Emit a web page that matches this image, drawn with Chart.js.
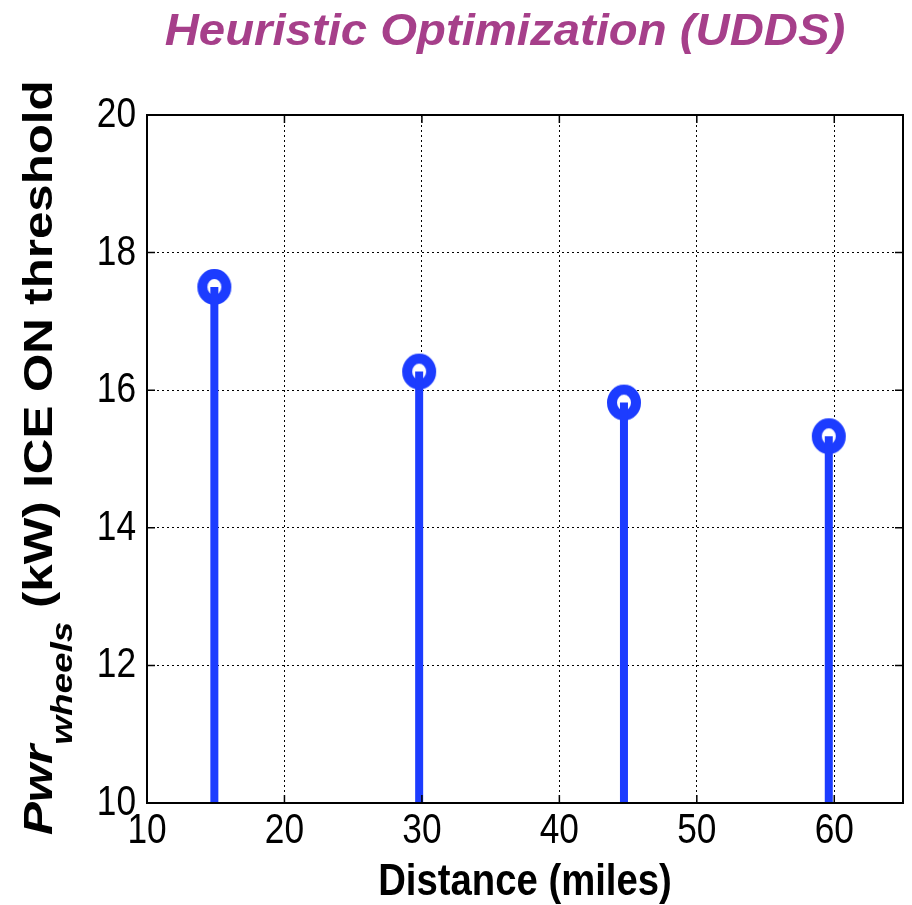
<!DOCTYPE html>
<html>
<head>
<meta charset="utf-8">
<script src="https://cdn.jsdelivr.net/npm/chart.js@4.4.1/dist/chart.umd.min.js"></script>
<style>
  html, body { margin: 0; padding: 0; background: #fff; overflow: hidden; }
  #wrap { width: 912px; height: 905px; position: relative; }
  #chart { display: block; }
</style>
</head>
<body>
<div id="wrap"><canvas id="chart" width="912" height="905"></canvas></div>
<script>
/* ─── Data ─────────────────────────────────────────────────────────────── */

const distances = [14.9, 29.8, 44.7, 59.6];          // miles (2, 4, 6, 8 UDDS cycles)
const thresholds = [17.5, 16.27, 15.82, 15.33];      // kW
const xTicks = [10, 20, 30, 40, 50, 60];
const yTicks = [10, 12, 14, 16, 18, 20];

const TITLE = 'Heuristic Optimization (UDDS)';
const X_LABEL = 'Distance (miles)';

const BLUE = '#1c3cff';
const PURPLE = '#a63f8a';
const SANS = '"Liberation Sans", Arial, Helvetica, sans-serif';

// ─── Marker: blue ring, a bit taller than wide ─────────────────────────────
function makeMarker() {
  const c = document.createElement('canvas');
  c.width = 36; c.height = 38;
  const g = c.getContext('2d');
  g.beginPath();
  g.ellipse(18, 19, 12, 13, 0, 0, Math.PI * 2);
  g.fillStyle = '#fff';
  g.fill();
  g.lineWidth = 10;
  g.strokeStyle = BLUE;
  g.stroke();
  return c;
}

// one two-point line per stem, from the baseline up to the value
const stemSets = distances.map((d, i) => ({
  type: 'line',
  data: [{ x: d, y: yTicks[0] }, { x: d, y: thresholds[i] }],
  borderColor: BLUE,
  borderWidth: 8,
  borderCapStyle: 'butt',
  pointRadius: 0,
  order: 0,
}));

const markerSet = {
  type: 'scatter',
  data: distances.map((d, i) => ({ x: d, y: thresholds[i] })),
  pointStyle: makeMarker(),
  pointRadius: 18,
  order: 1,
};

// text squeezed/stretched along its own direction (the source figure was resized)
function stretchText(ctx, text, x, y, sx, align) {
  ctx.save();
  ctx.translate(x, y);
  ctx.scale(sx, 1);
  ctx.textAlign = align;
  ctx.fillText(text, 0, 0);
  ctx.restore();
}

// ─── Decorations: box, inward ticks, tick labels, title, axis labels ───────
const frame = {
  id: 'frame',
  afterDraw(chart) {
    const { ctx, chartArea: a, scales } = chart;
    ctx.save();
    ctx.strokeStyle = '#000';
    ctx.lineWidth = 1.5;
    ctx.beginPath();
    xTicks.forEach(v => {
      const px = scales.x.getPixelForValue(v);
      ctx.moveTo(px, a.bottom); ctx.lineTo(px, a.bottom - 8);
      ctx.moveTo(px, a.top); ctx.lineTo(px, a.top + 8);
    });
    yTicks.forEach(v => {
      const py = scales.y.getPixelForValue(v);
      ctx.moveTo(a.left, py); ctx.lineTo(a.left + 8, py);
      ctx.moveTo(a.right, py); ctx.lineTo(a.right - 8, py);
    });
    ctx.stroke();
    ctx.lineWidth = 2;
    ctx.strokeRect(a.left, a.top, a.right - a.left, a.bottom - a.top);

    // tick labels (narrow, like the source)
    ctx.fillStyle = '#000';
    ctx.font = '42px ' + SANS;
    ctx.textBaseline = 'alphabetic';
    xTicks.forEach(v => {
      stretchText(ctx, String(v), scales.x.getPixelForValue(v), a.bottom + 40, 0.84, 'center');
    });
    yTicks.forEach(v => {
      stretchText(ctx, String(v), a.left - 11, scales.y.getPixelForValue(v) + 12, 0.84, 'right');
    });

    // title
    ctx.fillStyle = PURPLE;
    ctx.font = 'italic bold 44px ' + SANS;
    stretchText(ctx, TITLE, 505, 45, 1.075, 'center');

    // x label
    ctx.fillStyle = '#000';
    ctx.font = 'bold 44px ' + SANS;
    stretchText(ctx, X_LABEL, (a.left + a.right) / 2, 895, 0.87, 'center');

    // y label, rotated: Pwr + subscript wheels + rest
    ctx.translate(52, 835);
    ctx.rotate(-Math.PI / 2);
    ctx.scale(1.23, 1);
    ctx.textAlign = 'left';
    const parts = [
      { t: 'Pwr', f: 'italic bold 40px ' + SANS, dy: 0 },
      { t: 'wheels', f: 'italic bold 30px ' + SANS, dy: 20 },
      { t: ' (kW) ICE ON threshold', f: 'bold 40px ' + SANS, dy: 0 },
    ];
    let x = 0;
    parts.forEach(p => {
      ctx.font = p.f;
      ctx.fillText(p.t, x, p.dy);
      x += ctx.measureText(p.t).width;
    });
    ctx.restore();
  },
};

// ─── Chart ────────────────────────────────────────────────────────────────
new Chart(document.getElementById('chart'), {
  data: { datasets: [...stemSets, markerSet] },
  plugins: [frame],
  options: {
    responsive: false,
    animation: false,
    events: [],
    layout: { autoPadding: false, padding: { left: 0, top: 115, right: 9, bottom: 0 } },
    plugins: { legend: { display: false }, tooltip: { enabled: false } },
    scales: {
      x: {
        type: 'linear',
        min: 10,
        max: 65,
        afterBuildTicks: axis => { axis.ticks = xTicks.map(v => ({ value: v })); },
        afterFit: axis => { axis.height = 102; },
        grid: { color: '#000', lineWidth: 1, drawTicks: false },
        border: { display: false, dash: [2, 3] },
        ticks: { display: false },
      },
      y: {
        type: 'linear',
        min: 10,
        max: 20,
        afterBuildTicks: axis => { axis.ticks = yTicks.map(v => ({ value: v })); },
        afterFit: axis => { axis.width = 147; },
        grid: { color: '#000', lineWidth: 1, drawTicks: false },
        border: { display: false, dash: [2, 3] },
        ticks: { display: false },
      },
    },
  },
});
</script>
</body>
</html>
